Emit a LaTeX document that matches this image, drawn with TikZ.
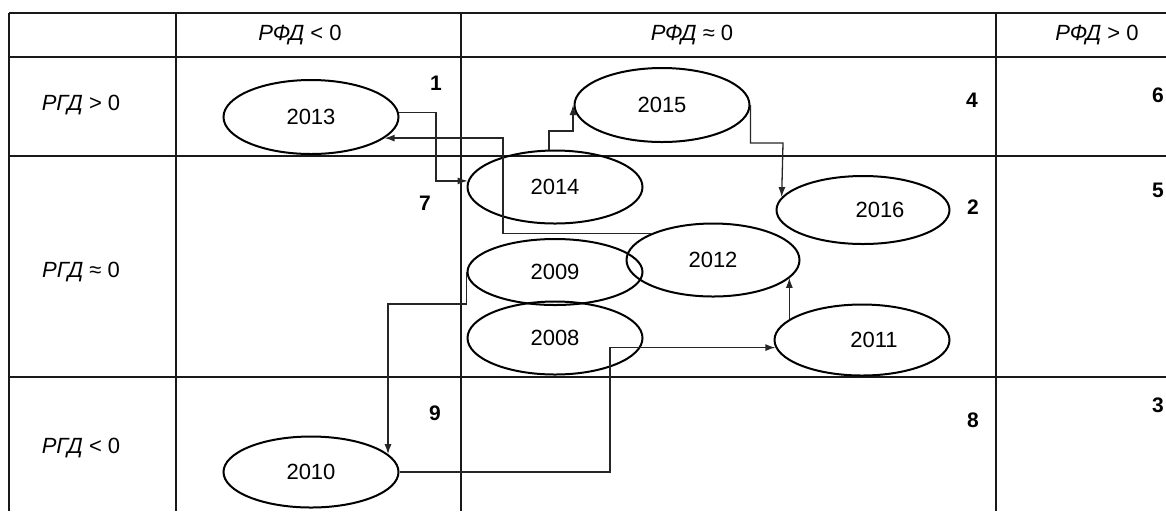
\documentclass[tikz,border=0pt]{standalone}
\usepackage{fontspec}
\setmainfont{Liberation Sans}
\usetikzlibrary{shapes.geometric, arrows.meta}

\begin{document}
\begin{tikzpicture}[x=0.5pt, y=-0.5pt, >={Latex[length=5pt,width=3.5pt]},
    year/.style={ellipse, draw=black, line width=1pt, inner sep=0pt,
        minimum width=87.5pt, minimum height=37pt, font=\fontsize{11}{13}\selectfont},
    link/.style={->, line width=0.65pt, draw=black!85},
    head/.style={font=\fontsize{11}{13}\selectfont},
    zone/.style={font=\fontsize{10.5}{12}\selectfont\bfseries}]
    \useasboundingbox (0,0) rectangle (1166,511);

    % Table grid
    \draw[line width=1pt, black!90] (9,13) -- (1166,13) (9,57) -- (1166,57)
        (9,156) -- (1166,156) (9,377) -- (1166,377);
    \foreach \x in {9,176,461,996}
        \draw[line width=1pt, black!90] (\x,13) -- (\x,511);

    % Headings
    \node[head] (fneg) at (300,35) {\textit{РФД} < 0};
    \node[head] (fzero) at (692,35) {\textit{РФД} ≈ 0};
    \node[head] (fpos) at (1097,35) {\textit{РФД} > 0};
    \node[head] (gpos) at (81,105) {\textit{РГД} > 0};
    \node[head] (gzero) at (81,272) {\textit{РГД} ≈ 0};
    \node[head] (gneg) at (81,448) {\textit{РГД} < 0};

    % Cell numbers
    \node[zone] (z1) at (436,83) {1};
    \node[zone] (z4) at (972,100) {4};
    \node[zone] (z6) at (1158,95) {6};
    \node[zone] (z7) at (425,203) {7};
    \node[zone] (z2) at (973,207) {2};
    \node[zone] (z5) at (1158,190) {5};
    \node[zone] (z9) at (435,413) {9};
    \node[zone] (z8) at (973,420) {8};
    \node[zone] (z3) at (1158,405) {3};

    % Years
    \node[year] (n2013) at (311,117) {2013};
    \node[year] (n2015) at (662,105) {2015};
    \node[year, minimum height=36.5pt] (n2014) at (555,187) {2014};
    \node[year, minimum width=86.5pt, minimum height=34pt] (n2016) at (863,210) {\hspace*{17pt}2016};
    \node[year, minimum width=86.5pt, minimum height=36.5pt] (n2012) at (713,260) {2012};
    \node[year, minimum height=33pt] (n2009) at (555,272) {2009};
    \node[year, minimum height=36.5pt] (n2008) at (555,338) {2008};
    \node[year, minimum height=35.5pt] (n2011) at (862,340) {\hspace*{12pt}2011};
    \node[year, minimum height=35.5pt] (n2010) at (311,472) {2010};

    % Path from year to year
    \draw[link] (n2013.3) -| (436,150) |- (n2014.176);
    \draw[link] (n2014.99) |- (573,131) -- (573,131 |- n2015.west);
    \draw[link] (n2015.east) |- (783,143) -- (n2016.171);
    \draw[link] (n2012.157) -| (503,200) |- (n2013.344);
    \draw[link] (n2009.west) |- (388,304) -- (388,304 |- n2010.13);
    \draw[link] (n2010.east) -| (610,400) |- (n2011.185);
    \draw[link] (n2011.164) -- (n2011.164 |- n2012.347);
\end{tikzpicture}
\end{document}
